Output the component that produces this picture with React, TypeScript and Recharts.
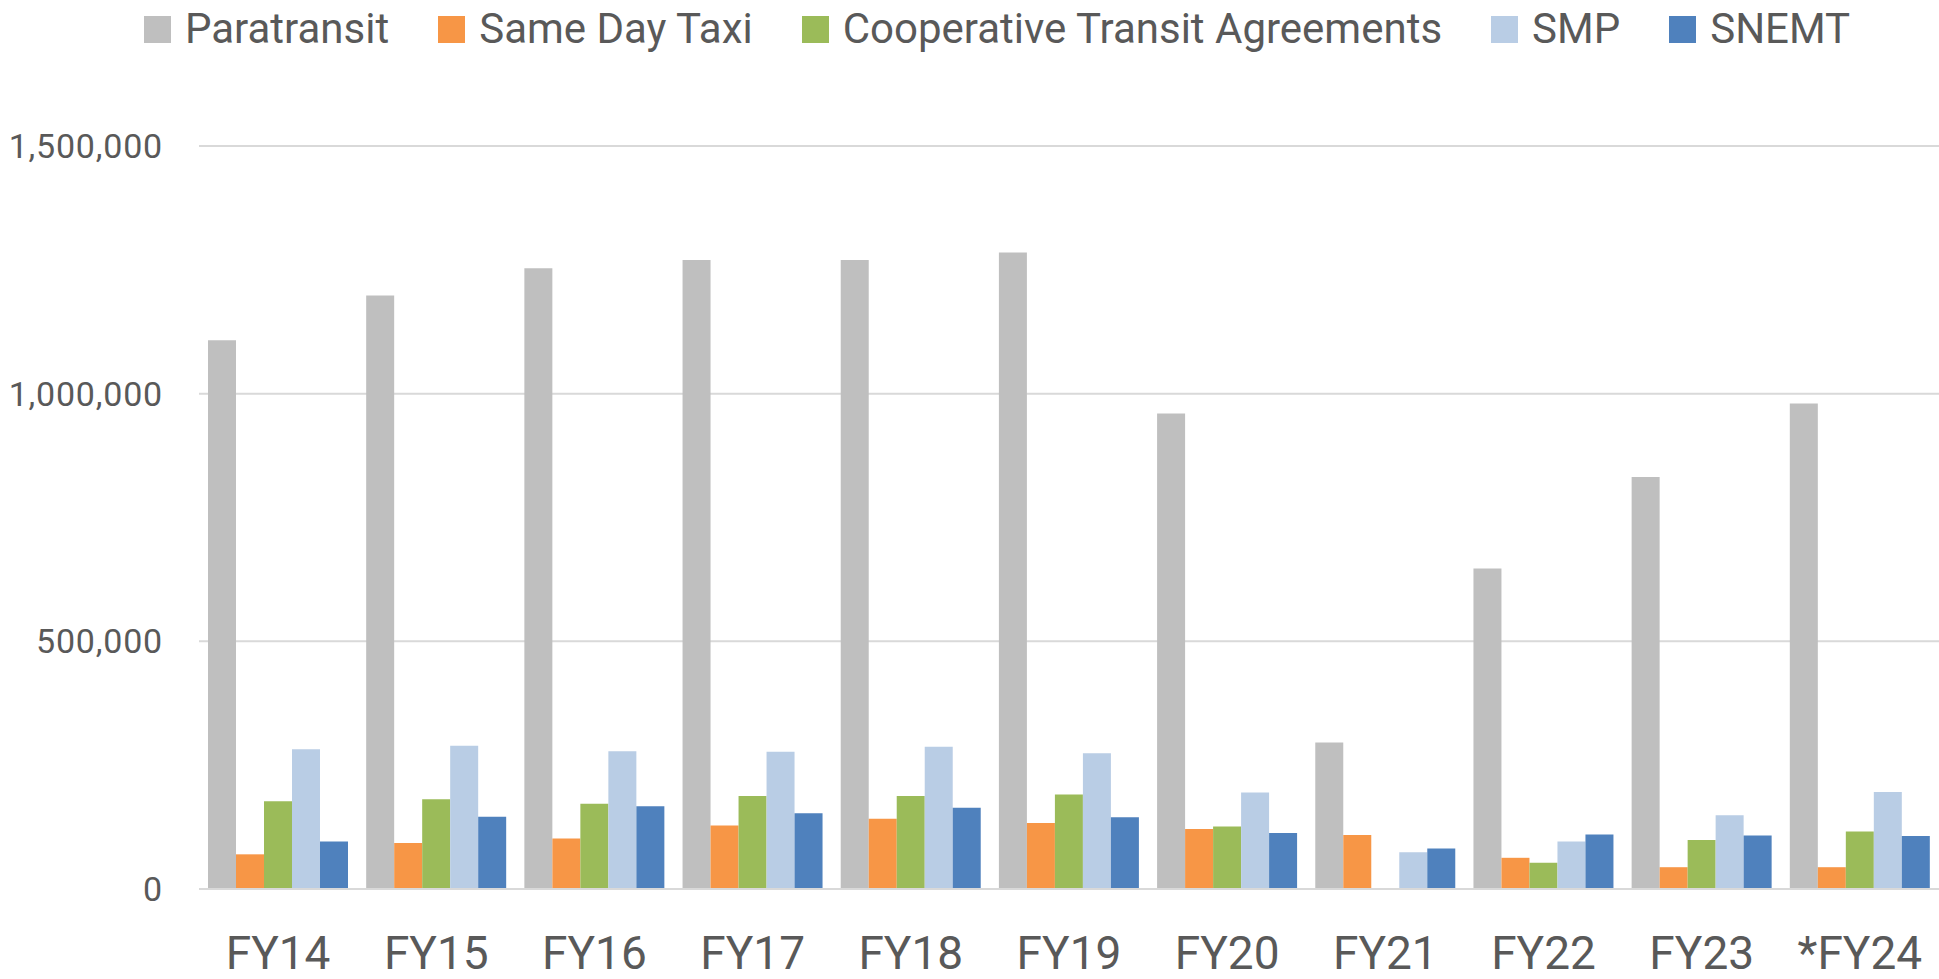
import React from 'react';
import { BarChart, Bar, XAxis, YAxis, CartesianGrid, Legend } from 'recharts';

const years = ['FY14', 'FY15', 'FY16', 'FY17', 'FY18', 'FY19', 'FY20', 'FY21', 'FY22', 'FY23', '*FY24'];

const paratransit = [1108000, 1198000, 1253000, 1270000, 1270000, 1285000, 960000, 296000, 647000, 832000, 980000];
const sameDayTaxi = [70000, 93000, 102000, 128000, 142000, 133000, 121000, 109000, 63000, 44000, 44000];
const cooperative = [177000, 181000, 172000, 188000, 188000, 191000, 126000, 0, 53000, 99000, 116000];
const smp = [282000, 289000, 278000, 277000, 287000, 274000, 195000, 74000, 96000, 149000, 196000];
const snemt = [96000, 146000, 167000, 153000, 164000, 145000, 113000, 82000, 110000, 108000, 107000];

const yTicks = [0, 500000, 1000000, 1500000];

const series = [
  { key: 'paratransit', name: 'Paratransit', color: '#BFBFBF' },
  { key: 'sameDayTaxi', name: 'Same Day Taxi', color: '#F79646' },
  { key: 'cooperative', name: 'Cooperative Transit Agreements', color: '#9BBB59' },
  { key: 'smp', name: 'SMP', color: '#B9CDE5' },
  { key: 'snemt', name: 'SNEMT', color: '#4F81BD' },
];

const data = years.map((year, i) => ({
  year,
  paratransit: paratransit[i],
  sameDayTaxi: sameDayTaxi[i],
  cooperative: cooperative[i],
  smp: smp[i],
  snemt: snemt[i],
}));

const FONT = 'Roboto, "Noto Sans", sans-serif';
const TEXT = '#595959';

// legend drawn as one row of html, placed like the excel original
const LegendRow = () => (
  <div style={{ display: 'flex', alignItems: 'center', height: 58, paddingLeft: 144, fontFamily: FONT, fontSize: 42, color: TEXT }}>
    {series.map((s) => (
      <div key={s.key} style={{ display: 'flex', alignItems: 'center', marginRight: 49 }}>
        <span style={{ display: 'inline-block', width: 27, height: 27, background: s.color, marginRight: 14 }} />
        <span style={{ lineHeight: '58px' }}>{s.name}</span>
      </div>
    ))}
  </div>
);

export default function App() {
  return (
    <div style={{ position: 'absolute', left: 0, top: 0, width: 1939, height: 979, background: '#fff' }}>
      <BarChart
        width={1939}
        height={979}
        data={data}
        margin={{ top: 88, right: 0, bottom: 0, left: 0 }}
        barCategoryGap={9}
        barGap={0}
      >
        <CartesianGrid vertical={false} stroke="#D9D9D9" strokeWidth={2} />
        <XAxis
          dataKey="year"
          height={90}
          tickLine={false}
          tickSize={0}
          tickMargin={47}
          axisLine={{ stroke: '#D9D9D9', strokeWidth: 2 }}
          tick={{ fill: TEXT, fontSize: 46, fontFamily: FONT }}
        />
        <YAxis
          width={199}
          domain={[0, 1500000]}
          ticks={yTicks}
          axisLine={false}
          tickLine={false}
          tickSize={0}
          tickMargin={36}
          tickFormatter={(v: number) => v.toLocaleString('en-US')}
          tick={{ fill: TEXT, fontSize: 34, fontFamily: FONT, letterSpacing: 0.8 }}
        />
        <Legend verticalAlign="top" align="left" content={() => <LegendRow />} wrapperStyle={{ top: 0, left: 0, width: 1939 }} />
        {series.map((s) => (
          <Bar key={s.key} dataKey={s.key} name={s.name} fill={s.color} isAnimationActive={false} />
        ))}
      </BarChart>
    </div>
  );
}
